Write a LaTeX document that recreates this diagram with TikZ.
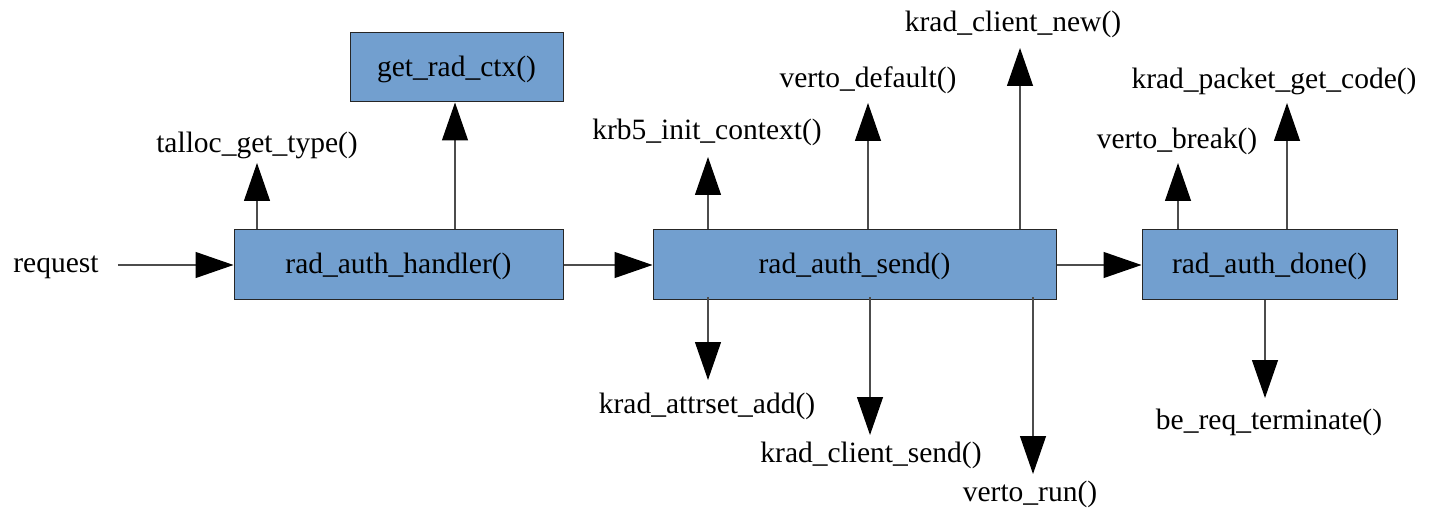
\documentclass[tikz,border=0pt]{standalone}
\usepackage{fontspec}
\newfontfamily\lserif{Liberation Serif}
\usetikzlibrary{arrows.meta}
\definecolor{boxblue}{HTML}{729FCF}
\tikzset{
  fbox/.style={draw=black!85, line width=1pt, fill=boxblue, inner sep=0pt, text height=22pt, text depth=4pt},
  lbl/.style={inner sep=0pt, yshift=-2.5pt},
  arr/.style={draw=black!70, line width=1.2pt, -{Triangle[width=26pt,length=38pt,color=black]}},
}
\begin{document}
\begin{tikzpicture}[x=1pt,y=-1pt,font=\lserif\fontsize{29.5}{34}\selectfont]
\useasboundingbox (0,0) rectangle (1447,510);
% boxes
\node[fbox, minimum width=213pt, minimum height=69pt] (ctx) at (456.5,67.5) {get\_rad\_ctx()};
\node[fbox, minimum width=329pt, minimum height=70pt] (hand) at (398.5,265) {rad\_auth\_handler()};
\node[fbox, minimum width=403pt, minimum height=70pt] (send) at (854.5,265) {rad\_auth\_send()};
\node[fbox, minimum width=255pt, minimum height=70pt] (done) at (1269.5,265) {rad\_auth\_done()};
% labels
\node[lbl] (req) at (56,265) {request};
\node[lbl] (talloc) at (257,143) {talloc\_get\_type()};
\node[lbl] (krb) at (707,130) {krb5\_init\_context()};
\node[lbl] (vdef) at (868,78) {verto\_default()};
\node[lbl] (cnew) at (1013,22) {krad\_client\_new()};
\node[lbl] (attr) at (707,404) {krad\_attrset\_add()};
\node[lbl] (csend) at (871,453) {krad\_client\_send()};
\node[lbl] (vrun) at (1030,492) {verto\_run()};
\node[lbl] (vbrk) at (1177,139) {verto\_break()};
\node[lbl] (pcode) at (1274,79) {krad\_packet\_get\_code()};
\node[lbl] (term) at (1269,420) {be\_req\_terminate()};
% arrow tips
\coordinate (ttal) at (257,163);
\coordinate (tkrb) at (708,157);
\coordinate (tvdef) at (868,103);
\coordinate (tcnew) at (1020,48);
\coordinate (tattr) at (708,380);
\coordinate (tcsend) at (870,435);
\coordinate (tvrun) at (1033,474);
\coordinate (tvbrk) at (1178,163);
\coordinate (tpcode) at (1287,103);
\coordinate (tterm) at (1265,398);
% connectors
\draw[arr] (req.east |- hand.west) ++(19,0) -- (hand.west);
\draw[arr] (hand.north -| ttal) -- (ttal);
\draw[arr] (hand.north -| 455,0) -- (ctx.south -| 455,0);
\draw[arr] (hand.east) -- (send.west);
\draw[arr] (send.east) -- (done.west);
\draw[arr] (send.north -| tkrb) -- (tkrb);
\draw[arr] (send.north -| tvdef) -- (tvdef);
\draw[arr] (send.north -| tcnew) -- (tcnew);
\draw[arr] ([yshift=3pt]send.south -| tattr) -- (tattr);
\draw[arr] ([yshift=3pt]send.south -| tcsend) -- (tcsend);
\draw[arr] ([yshift=3pt]send.south -| tvrun) -- (tvrun);
\draw[arr] (done.north -| tvbrk) -- (tvbrk);
\draw[arr] (done.north -| tpcode) -- (tpcode);
\draw[arr] (done.south -| tterm) -- (tterm);
\end{tikzpicture}
\end{document}
